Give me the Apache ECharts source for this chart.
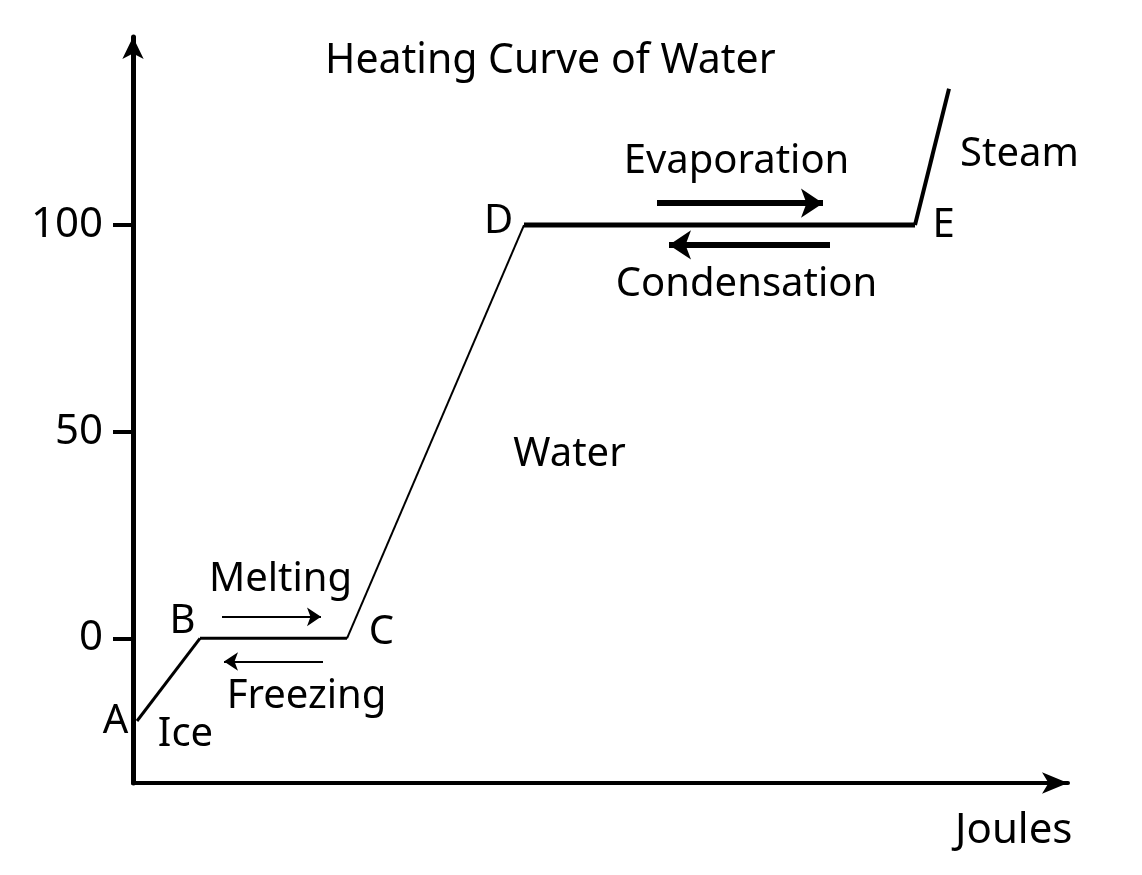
<!DOCTYPE html>
<html>
<head>
<meta charset="utf-8">
<script src="https://cdn.jsdelivr.net/npm/echarts@6/dist/echarts.min.js"></script>
<style>
html,body{margin:0;padding:0;background:#fff;}
#chart{width:1142px;height:875px;}
</style>
</head>
<body>
<div id="chart"></div>
<script>
// Heating curve vertices (A..E, then top of steam line)
const curveJoules = [4, 67, 214, 391, 782, 816];
const curveTemps = [-20, 0, 0, 100, 100, 133];
// y-axis tick labels
const yTicks = [0, 50, 100];
// Phase-change arrows: [startJoules, startTemp, endJoules, endTemp]
const arrowNames = ['Melting', 'Freezing', 'Evaporation', 'Condensation'];
const arrowFromX = [89, 190, 524, 697];
const arrowToX = [188, 91, 690, 536];
const arrowY = [5.2, -5.6, 105.3, 95.2];
// Annotation texts and their data-space positions
const noteTexts = ['A', 'B', 'C', 'D', 'E', 'Ice', 'Melting', 'Freezing', 'Water', 'Evaporation', 'Condensation', 'Steam'];
const noteX = [-17, 50, 249, 366, 811, 53, 148, 174, 437, 604, 614, 887];
const noteY = [-20.3, 3.9, 1.2, 100.7, 99.8, -23.5, 14.0, -14.3, 44.3, 115.3, 85.5, 117.0];

const FONT = 'Noto Sans';
const segWidths = [3, 3, 2, 5, 4];
const arrowWidths = [2, 2, 6, 6];
const arrowHead = [[12, 14], [12, 14], [22, 22], [22, 22]];

const series = [];
for (let i = 0; i < curveJoules.length - 1; i++) {
  series.push({
    type: 'line',
    data: [[curveJoules[i], curveTemps[i]], [curveJoules[i + 1], curveTemps[i + 1]]],
    symbol: 'none',
    lineStyle: { color: '#000', width: segWidths[i] },
    silent: true,
    animation: false,
    clip: false
  });
}
for (let i = 0; i < arrowNames.length; i++) {
  series.push({
    type: 'lines',
    coordinateSystem: 'cartesian2d',
    symbol: ['none', 'arrow'],
    symbolSize: arrowHead[i],
    lineStyle: { color: '#000', width: arrowWidths[i], opacity: 1, curveness: 0 },
    data: [{ coords: [[arrowFromX[i], arrowY[i]], [arrowToX[i], arrowY[i]]] }],
    silent: true,
    animation: false
  });
}
series.push({
  type: 'scatter',
  symbol: 'circle',
  symbolSize: 1,
  itemStyle: { color: '#fff', opacity: 1 },
  clip: false,
  silent: true,
  animation: false,
  data: noteTexts.map((t, i) => ({ value: [noteX[i], noteY[i]], name: t })),
  label: {
    show: true,
    position: [0, 0],
    align: 'center',
    verticalAlign: 'middle',
    formatter: p => p.name,
    color: '#000',
    opacity: 1,
    fontFamily: FONT,
    fontSize: 40
  },
  labelLayout: { hideOverlap: false }
});

const chart = echarts.init(document.getElementById('chart'));
chart.setOption({
  backgroundColor: '#fff',
  animation: false,
  title: {
    text: 'Heating Curve of Water',
    left: 320,
    top: 36,
    textStyle: { fontFamily: FONT, fontSize: 41, fontWeight: 'normal', color: '#000' }
  },
  grid: { left: 133, right: 74, top: 37, bottom: 92, containLabel: false, outerBoundsMode: 'none' },
  xAxis: {
    type: 'value',
    min: 0,
    max: 935,
    axisLine: { onZero: false, symbol: ['none', 'arrow'], symbolSize: [16, 26], lineStyle: { color: '#000', width: 4 } },
    axisTick: { show: false },
    axisLabel: { show: false },
    splitLine: { show: false }
  },
  yAxis: {
    type: 'value',
    min: -35,
    max: 145.5,
    axisLine: { onZero: false, symbol: ['none', 'arrow'], symbolSize: [16, 22], lineStyle: { color: '#000', width: 5 } },
    axisTick: { show: true, customValues: yTicks, length: 20, lineStyle: { color: '#000', width: 4 } },
    axisLabel: { show: true, customValues: yTicks, margin: 30, color: '#000', fontFamily: FONT, fontSize: 42 },
    splitLine: { show: false }
  },
  graphic: [{
    type: 'text',
    left: 955,
    top: 810,
    style: { text: 'Joules', fill: '#000', font: '42px "Noto Sans"' }
  }],
  series: series
});
</script>
</body>
</html>
